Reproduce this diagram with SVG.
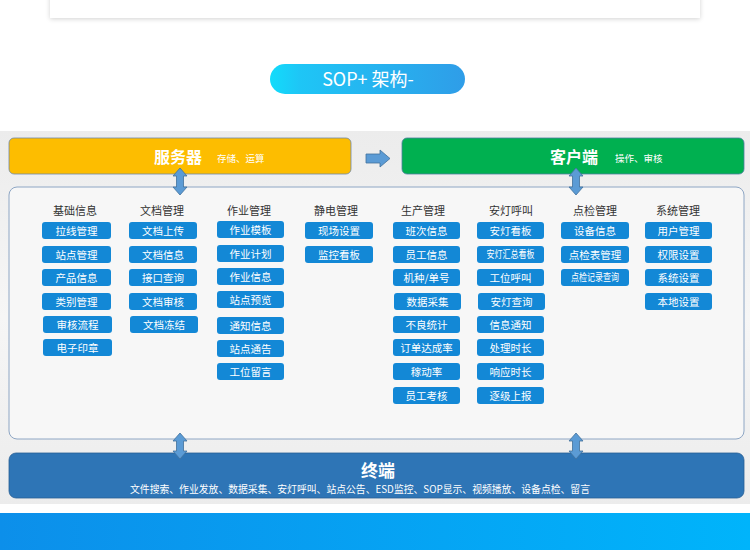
<svg xmlns="http://www.w3.org/2000/svg" width="750" height="550" viewBox="0 0 750 550">
<defs>
<linearGradient id="pillG" x1="0" y1="0" x2="1" y2="0">
<stop offset="0" stop-color="#12dcfb"/>
<stop offset="0.15" stop-color="#1ec6f6"/>
<stop offset="1" stop-color="#2f9de8"/>
</linearGradient>
<linearGradient id="bandG" x1="0" y1="0" x2="1" y2="0">
<stop offset="0" stop-color="#0c8fea"/>
<stop offset="1" stop-color="#00b4fb"/>
</linearGradient>
<linearGradient id="bgG" x1="0" y1="0" x2="0" y2="1">
<stop offset="0" stop-color="#ececec"/>
<stop offset="0.5" stop-color="#f6f6f6"/>
<stop offset="1" stop-color="#ececec"/>
</linearGradient>
<filter id="sh" x="-5%" y="-50%" width="110%" height="200%">
<feGaussianBlur in="SourceAlpha" stdDeviation="2.5"/>
<feOffset dy="1"/>
<feComponentTransfer><feFuncA type="linear" slope="0.18"/></feComponentTransfer>
<feMerge><feMergeNode/><feMergeNode in="SourceGraphic"/></feMerge>
</filter>
</defs>
<style>
text{font-family:"Noto Sans CJK SC","Liberation Sans",sans-serif;}
.btn rect{fill:#1388d6;}
.btn text{fill:#ffffff;font-size:10.5px;text-anchor:middle;}
.hd{fill:#333333;font-size:11px;text-anchor:middle;}
.arr{fill:#5b9bd5;stroke:#41719c;stroke-width:0.8;}
.bar-title{fill:#ffffff;font-weight:bold;}
.bar-sub{fill:#ffffff;font-size:9.5px;}
</style>
<rect width="750" height="550" fill="#ffffff"/>
<rect x="50" y="-10" width="650" height="28" fill="#ffffff" filter="url(#sh)"/>
<g id="title">
<rect x="270" y="64" width="195" height="30" rx="15" fill="url(#pillG)"/>
<text x="368" y="86" font-size="18" fill="#ffffff" text-anchor="middle">SOP+ 架构-</text>
</g>
<rect x="0" y="131" width="750" height="373" fill="url(#bgG)"/>
<rect x="0" y="513" width="750" height="37" fill="url(#bandG)"/>
<g id="server">
<rect x="9" y="138" width="342" height="36" rx="5" fill="#fdbd00" stroke="#6f88a8" stroke-width="0.8"/>
<text class="bar-title" x="154" y="163" font-size="16">服务器</text>
<text class="bar-sub" x="217" y="162">存储、运算</text>
</g>
<g id="client">
<rect x="402" y="138" width="342" height="36" rx="5" fill="#00b050" stroke="#4f7f9f" stroke-width="0.8"/>
<text class="bar-title" x="550" y="163" font-size="16">客户端</text>
<text class="bar-sub" x="615" y="162">操作、审核</text>
</g>
<g id="modules">
<rect x="9" y="187" width="735" height="252" rx="8" fill="#f7f7f7" stroke="#8ea6c4" stroke-width="1"/>
<g id="col-jichu">
<text class="hd" x="75" y="215">基础信息</text>
<g class="btn"><rect x="42" y="222" width="69" height="17" rx="3"/><text x="76.5" y="234.5">拉线管理</text></g>
<g class="btn"><rect x="42" y="246" width="69" height="17" rx="3"/><text x="76.5" y="258.5">站点管理</text></g>
<g class="btn"><rect x="42" y="269" width="69" height="17" rx="3"/><text x="76.5" y="281.5">产品信息</text></g>
<g class="btn"><rect x="42" y="293" width="69" height="17" rx="3"/><text x="76.5" y="305.5">类别管理</text></g>
<g class="btn"><rect x="43" y="316" width="69" height="17" rx="3"/><text x="77.5" y="328.5">审核流程</text></g>
<g class="btn"><rect x="43" y="339" width="69" height="17" rx="3"/><text x="77.5" y="351.5">电子印章</text></g>
</g>
<g id="col-wendang">
<text class="hd" x="162" y="215">文档管理</text>
<g class="btn"><rect x="129" y="222" width="68" height="17" rx="3"/><text x="163" y="234.5">文档上传</text></g>
<g class="btn"><rect x="129" y="246" width="68" height="17" rx="3"/><text x="163" y="258.5">文档信息</text></g>
<g class="btn"><rect x="129" y="269" width="68" height="17" rx="3"/><text x="163" y="281.5">接口查询</text></g>
<g class="btn"><rect x="129" y="293" width="68" height="17" rx="3"/><text x="163" y="305.5">文档审核</text></g>
<g class="btn"><rect x="130" y="316" width="68" height="17" rx="3"/><text x="164" y="328.5">文档冻结</text></g>
</g>
<g id="col-zuoye">
<text class="hd" x="249" y="215">作业管理</text>
<g class="btn"><rect x="217" y="221" width="67" height="17" rx="3"/><text x="250.5" y="233.5">作业模板</text></g>
<g class="btn"><rect x="217" y="245" width="67" height="17" rx="3"/><text x="250.5" y="257.5">作业计划</text></g>
<g class="btn"><rect x="217" y="268" width="67" height="17" rx="3"/><text x="250.5" y="280.5">作业信息</text></g>
<g class="btn"><rect x="217" y="291" width="67" height="17" rx="3"/><text x="250.5" y="303.5">站点预览</text></g>
<g class="btn"><rect x="217" y="317" width="67" height="17" rx="3"/><text x="250.5" y="329.5">通知信息</text></g>
<g class="btn"><rect x="217" y="340" width="67" height="17" rx="3"/><text x="250.5" y="352.5">站点通告</text></g>
<g class="btn"><rect x="217" y="363" width="67" height="17" rx="3"/><text x="250.5" y="375.5">工位留言</text></g>
</g>
<g id="col-jingdian">
<text class="hd" x="336" y="215">静电管理</text>
<g class="btn"><rect x="305" y="222" width="68" height="17" rx="3"/><text x="339" y="234.5">现场设置</text></g>
<g class="btn"><rect x="305" y="246" width="68" height="17" rx="3"/><text x="339" y="258.5">监控看板</text></g>
</g>
<g id="col-shengchan">
<text class="hd" x="423" y="215">生产管理</text>
<g class="btn"><rect x="393" y="222" width="67" height="17" rx="3"/><text x="426.5" y="234.5">班次信息</text></g>
<g class="btn"><rect x="393" y="246" width="67" height="17" rx="3"/><text x="426.5" y="258.5">员工信息</text></g>
<g class="btn"><rect x="393" y="269" width="67" height="17" rx="3"/><text x="426.5" y="281.5">机种/单号</text></g>
<g class="btn"><rect x="394" y="293" width="67" height="17" rx="3"/><text x="427.5" y="305.5">数据采集</text></g>
<g class="btn"><rect x="393" y="316" width="67" height="17" rx="3"/><text x="426.5" y="328.5">不良统计</text></g>
<g class="btn"><rect x="393" y="339" width="67" height="17" rx="3"/><text x="426.5" y="351.5">订单达成率</text></g>
<g class="btn"><rect x="393" y="363" width="67" height="17" rx="3"/><text x="426.5" y="375.5">稼动率</text></g>
<g class="btn"><rect x="393" y="387" width="67" height="17" rx="3"/><text x="426.5" y="399.5">员工考核</text></g>
</g>
<g id="col-andeng">
<text class="hd" x="511" y="215">安灯呼叫</text>
<g class="btn"><rect x="477" y="222" width="67" height="17" rx="3"/><text x="510.5" y="234.5">安灯看板</text></g>
<g class="btn"><rect x="477" y="246" width="67" height="17" rx="3"/><text x="510.5" y="258" font-size="9.5" textLength="48" lengthAdjust="spacingAndGlyphs">安灯汇总看板</text></g>
<g class="btn"><rect x="477" y="269" width="67" height="17" rx="3"/><text x="510.5" y="281.5">工位呼叫</text></g>
<g class="btn"><rect x="478" y="293" width="67" height="17" rx="3"/><text x="511.5" y="305.5">安灯查询</text></g>
<g class="btn"><rect x="477" y="316" width="67" height="17" rx="3"/><text x="510.5" y="328.5">信息通知</text></g>
<g class="btn"><rect x="477" y="339" width="67" height="17" rx="3"/><text x="510.5" y="351.5">处理时长</text></g>
<g class="btn"><rect x="477" y="363" width="67" height="17" rx="3"/><text x="510.5" y="375.5">响应时长</text></g>
<g class="btn"><rect x="477" y="387" width="67" height="17" rx="3"/><text x="510.5" y="399.5">逐级上报</text></g>
</g>
<g id="col-dianjian">
<text class="hd" x="595" y="215">点检管理</text>
<g class="btn"><rect x="561" y="222" width="68" height="17" rx="3"/><text x="595" y="234.5">设备信息</text></g>
<g class="btn"><rect x="561" y="246" width="68" height="17" rx="3"/><text x="595" y="258.5">点检表管理</text></g>
<g class="btn"><rect x="561" y="269" width="68" height="17" rx="3"/><text x="595" y="281" font-size="9.5" textLength="48" lengthAdjust="spacingAndGlyphs">点检记录查询</text></g>
</g>
<g id="col-xitong">
<text class="hd" x="678" y="215">系统管理</text>
<g class="btn"><rect x="645" y="222" width="67" height="17" rx="3"/><text x="678.5" y="234.5">用户管理</text></g>
<g class="btn"><rect x="645" y="246" width="67" height="17" rx="3"/><text x="678.5" y="258.5">权限设置</text></g>
<g class="btn"><rect x="645" y="269" width="67" height="17" rx="3"/><text x="678.5" y="281.5">系统设置</text></g>
<g class="btn"><rect x="645" y="293" width="67" height="17" rx="3"/><text x="678.5" y="305.5">本地设置</text></g>
</g>
</g>
<g id="terminal">
<rect x="9" y="453" width="735" height="45" rx="7" fill="#2e75b6" stroke="#2a5f94" stroke-width="0.8"/>
<text class="bar-title" x="378" y="477" font-size="17" text-anchor="middle">终端</text>
<text x="360" y="493" font-size="10" fill="#ffffff" text-anchor="middle" textLength="460" lengthAdjust="spacingAndGlyphs">文件搜索、作业发放、数据采集、安灯呼叫、站点公告、ESD监控、SOP显示、视频播放、设备点检、留言</text>
</g>
<g id="connectors">
<path class="arr" d="M366,154 L380,154 L380,150 L390,158.5 L380,167 L380,163 L366,163 Z"/>
<path class="arr" d="M180,168 L187,176 L183.5,176 L183.5,187 L187,187 L180,195 L173,187 L176.5,187 L176.5,176 L173,176 Z"/>
<path class="arr" d="M576,168 L583,176 L579.5,176 L579.5,187 L583,187 L576,195 L569,187 L572.5,187 L572.5,176 L569,176 Z"/>
<path class="arr" d="M180,433 L187,441 L183.5,441 L183.5,451 L187,451 L180,459 L173,451 L176.5,451 L176.5,441 L173,441 Z"/>
<path class="arr" d="M576,433 L583,441 L579.5,441 L579.5,451 L583,451 L576,459 L569,451 L572.5,451 L572.5,441 L569,441 Z"/>
</g>
</svg>
